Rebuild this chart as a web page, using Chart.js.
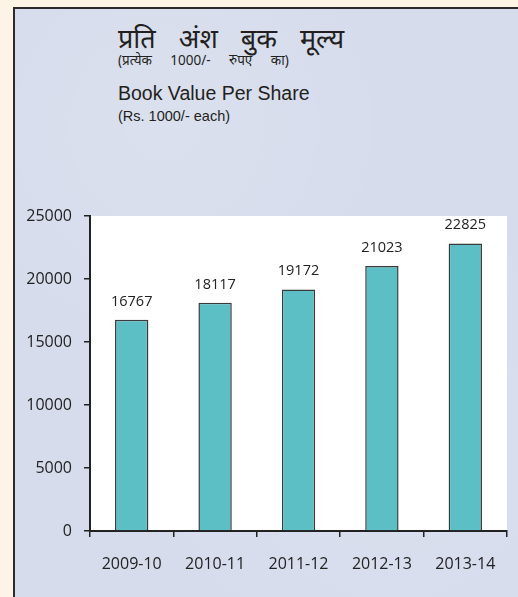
<!DOCTYPE html>
<html>
<head>
<meta charset="utf-8">
<script src="https://cdn.jsdelivr.net/npm/chart.js@4"></script>
<style>
  html, body { margin:0; padding:0; width:518px; height:597px; overflow:hidden; background:#fdf4e6; }
  #panel { position:absolute; left:13px; top:7px; width:505px; height:590px;
    background:#d6dcec;
    background-image:
      radial-gradient(circle at 30% 20%, rgba(255,255,255,0.12) 0, rgba(255,255,255,0) 40%),
      radial-gradient(circle at 75% 75%, rgba(255,255,255,0.1) 0, rgba(255,255,255,0) 45%);
    border-left:2px solid #2b2b2b; border-top:2px solid #2b2b2b; box-sizing:border-box; }
  canvas { position:absolute; left:0; top:0; }
  .t { position:absolute; left:118px; color:#231f20; white-space:nowrap; }
  #t1 { top:24px; font-family:"Noto Sans","Noto Sans Devanagari","Liberation Sans",sans-serif; font-size:27px; line-height:28px; word-spacing:16px; }
  #t2 { top:53px; font-family:"Noto Sans","Noto Sans Devanagari","Liberation Sans",sans-serif; font-size:13.5px; line-height:14px; word-spacing:15px; }
  #t3 { top:82px; font-family:"Liberation Sans",Arial,sans-serif; font-size:19.5px; line-height:22px; }
  #t4 { top:109px; font-family:"Liberation Sans",Arial,sans-serif; font-size:14.5px; line-height:15px; }
</style>
</head>
<body>
<div id="panel"></div>
<div class="t" id="t1">प्रति अंश बुक मूल्य</div>
<div class="t" id="t2">(प्रत्येक 1000/- रुपए का)</div>
<div class="t" id="t3">Book Value Per Share</div>
<div class="t" id="t4">(Rs. 1000/- each)</div>
<canvas id="c" width="518" height="597"></canvas>
<script>
const categories = ["2009-10", "2010-11", "2011-12", "2012-13", "2013-14"];
const bookValues = [16767, 18117, 19172, 21023, 22825];
const yTicks = [0, 5000, 10000, 15000, 20000, 25000];

const whiteArea = {
  id: 'whiteArea',
  beforeDraw(chart) {
    const {ctx, chartArea: a} = chart;
    ctx.save();
    ctx.fillStyle = '#ffffff';
    ctx.fillRect(a.left, a.top, a.right - a.left, a.bottom - a.top);
    ctx.restore();
  }
};
const valueLabels = {
  id: 'valueLabels',
  afterDatasetsDraw(chart) {
    const ctx = chart.ctx;
    const meta = chart.getDatasetMeta(0);
    ctx.save();
    ctx.font = '14.5px "Open Sans"';
    ctx.fillStyle = '#222';
    ctx.textAlign = 'center';
    ctx.textBaseline = 'bottom';
    meta.data.forEach((el, i) => {
      ctx.fillText(String(chart.data.datasets[0].data[i]), el.x, el.y - 11);
    });
    ctx.restore();
  }
};

new Chart(document.getElementById('c'), {
  type: 'bar',
  data: {
    labels: categories,
    datasets: [{
      data: bookValues,
      backgroundColor: '#5bbfc5',
      borderColor: '#3a3a3a',
      borderWidth: 1.5,
      barPercentage: 0.4,
      categoryPercentage: 1
    }]
  },
  options: {
    responsive: false,
    animation: false,
    devicePixelRatio: 1,
    layout: { padding: { top: 216, right: 11, left: 0, bottom: 0 } },
    plugins: { legend: { display: false }, tooltip: { enabled: false }, title: { display: false } },
    scales: {
      y: {
        min: 0, max: 25000,
        afterFit(s) { s.width = 90; },
        afterBuildTicks(s) { s.ticks = yTicks.map(v => ({ value: v })); },
        ticks: { color: '#222', font: { family: 'Open Sans', size: 16 }, padding: 12, callback: v => String(v) },
        grid: { drawOnChartArea: false, drawTicks: true, tickLength: 6, color: '#222', lineWidth: 1.5 },
        border: { color: '#222', width: 2 }
      },
      x: {
        afterFit(s) { s.height = 66; },
        ticks: { color: '#222', font: { family: 'Open Sans', size: 16 }, padding: 18, maxRotation: 0 },
        grid: { drawOnChartArea: false, drawTicks: true, tickLength: 6, color: '#222', lineWidth: 1.5, offset: true },
        border: { color: '#222', width: 2 }
      }
    }
  },
  plugins: [whiteArea, valueLabels]
});
</script>
</body>
</html>
